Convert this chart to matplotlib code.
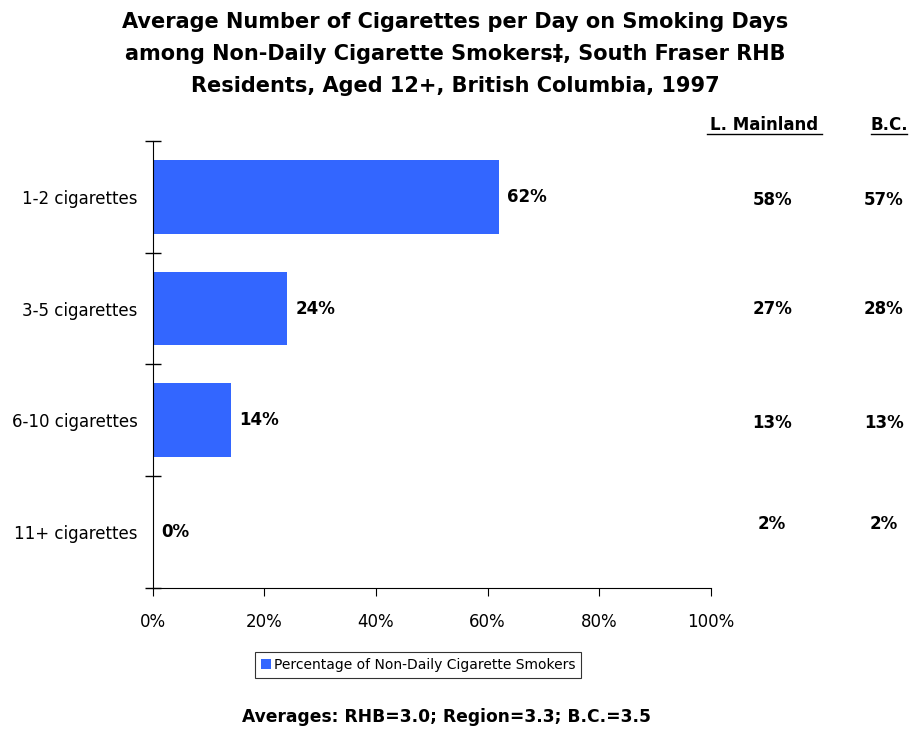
import matplotlib.pyplot as plt
import numpy as np

categories = ['1-2 cigarettes', '3-5 cigarettes', '6-10 cigarettes', '11+ cigarettes']
rhb = [62, 24, 14, 0]
mainland = ['58%', '27%', '13%', '2%']
bc = ['57%', '28%', '13%', '2%']

fig = plt.figure(figsize=(9.1, 7.3), dpi=100)
ax = fig.add_axes([0.168, 0.1945, 0.613, 0.6125])

y = np.arange(len(categories))
ax.barh(y, rhb, height=0.66, color='#3366FF', label='Percentage of Non-Daily Cigarette Smokers')
ax.set_ylim(len(categories) - 0.5, -0.5)
ax.set_xlim(0, 100)

for yi, v in zip(y, rhb):
    ax.text(v + 1.5, yi, f'{v}%', va='center', ha='left', fontsize=12, fontweight='bold')

# side columns for L. Mainland and B.C.
offs = [0.03, 0.0, 0.02, -0.07]
for yi, m, b, o in zip(y, mainland, bc, offs):
    ax.text(111, yi + o, m, va='center', ha='center', fontsize=12, fontweight='bold')
    ax.text(131, yi + o, b, va='center', ha='center', fontsize=12, fontweight='bold')

fig.text(764 / 910, 1 - 125 / 730, 'L. Mainland', ha='center', va='center', fontsize=12, fontweight='bold')
fig.text(889 / 910, 1 - 125 / 730, 'B.C.', ha='center', va='center', fontsize=12, fontweight='bold')
fig.add_artist(plt.Line2D([707 / 910, 822 / 910], [1 - 134 / 730] * 2, color='black', lw=1))
fig.add_artist(plt.Line2D([871 / 910, 907 / 910], [1 - 134 / 730] * 2, color='black', lw=1))

ax.set_yticks(np.arange(-0.5, len(categories), 1))
ax.set_yticklabels([])
ax.set_yticks(y, minor=True)
ax.set_yticklabels(categories, minor=True, fontsize=12)
ax.tick_params(axis='y', which='minor', length=0, pad=11)
ax.tick_params(axis='y', which='major', direction='inout', length=12, width=1)

ax.set_xticks([0, 20, 40, 60, 80, 100])
ax.set_xticklabels(['0%', '20%', '40%', '60%', '80%', '100%'], fontsize=12)
ax.tick_params(axis='x', direction='out', length=6, pad=12)

ax.spines['top'].set_visible(False)
ax.spines['right'].set_visible(False)

fig.text(0.5, 1 - 54 / 730,
         'Average Number of Cigarettes per Day on Smoking Days\n'
         'among Non-Daily Cigarette Smokers\u2021, South Fraser RHB\n'
         'Residents, Aged 12+, British Columbia, 1997',
         ha='center', va='center', fontsize=15, fontweight='bold', linespacing=1.75)

leg = fig.legend(loc='center', bbox_to_anchor=(418 / 910, 1 - 665 / 730), fontsize=10,
                 frameon=True, fancybox=False, edgecolor='black', handlelength=0.7,
                 handleheight=0.7, handletextpad=0.2, borderpad=0.4)
leg.get_frame().set_linewidth(0.8)

fig.text(447 / 910, 1 - 717 / 730, 'Averages: RHB=3.0; Region=3.3; B.C.=3.5',
         ha='center', va='center', fontsize=12.3, fontweight='bold')

fig.savefig('out.png', dpi=100)
